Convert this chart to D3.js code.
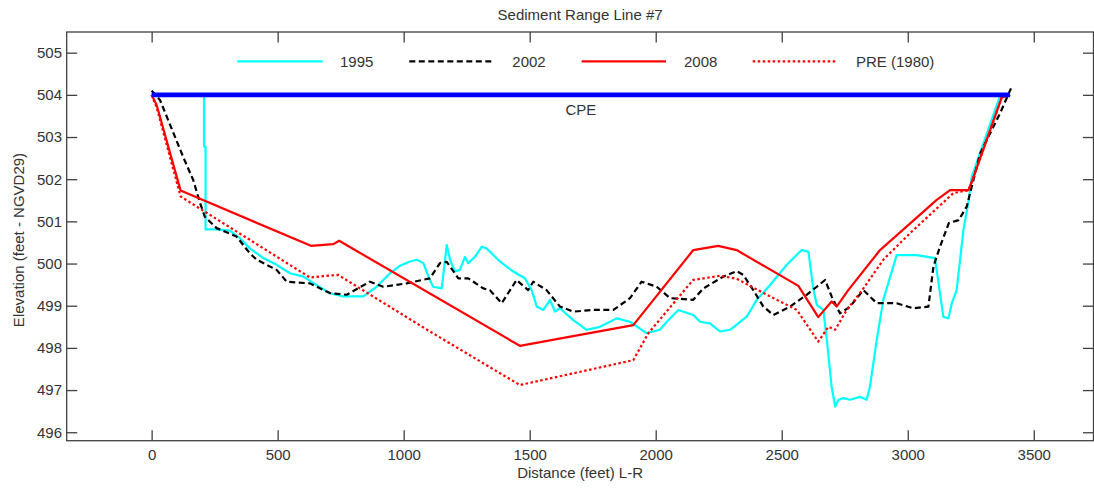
<!DOCTYPE html>
<html><head><meta charset="utf-8">
<script src="https://cdn.jsdelivr.net/npm/d3@7"></script>
<style>
body{margin:0;background:#fff;}
svg text{font-family:"Liberation Sans",Arial,sans-serif;fill:#333;}
</style></head>
<body><svg id="c" width="1094" height="488"></svg>
<script>
const title = "Sediment Range Line #7";
const xLabel = "Distance (feet) L-R";
const yLabel = "Elevation (feet - NGVD29)";
const xTicks = [0,500,1000,1500,2000,2500,3000,3500];
const yTicks = [496,497,498,499,500,501,502,503,504,505];
const seriesNames = ["1995","2002","2008","PRE (1980)"];

const cpe = [[0,504],[3406,504]];

const s1995 = [[208,504.0],[208,502.77],[214,502.77],[214,500.81],[258,500.81],[311,500.78],[350,500.6],[390,500.36],[443,500.13],[496,499.97],[549,499.77],[602,499.69],[655,499.49],[707,499.3],[760,499.22],[840,499.22],[893,499.45],[946,499.77],[986,499.95],[1025,500.05],[1052,500.09],[1078,500.01],[1104,499.61],[1117,499.45],[1151,499.41],[1171,500.44],[1184,500.09],[1204,499.81],[1223,499.85],[1243,500.16],[1256,500.01],[1283,500.16],[1310,500.4],[1329,500.36],[1382,500.05],[1435,499.81],[1481,499.65],[1508,499.37],[1528,498.98],[1554,498.9],[1581,499.14],[1600,498.86],[1620,498.94],[1673,498.66],[1726,498.43],[1779,498.5],[1845,498.7],[1898,498.62],[1964,498.35],[2017,498.43],[2044,498.62],[2090,498.9],[2149,498.78],[2176,498.62],[2215,498.58],[2255,498.39],[2295,498.43],[2361,498.74],[2401,499.14],[2454,499.49],[2520,499.97],[2579,500.32],[2606,500.28],[2625,499.41],[2639,499.02],[2665,498.9],[2679,498.19],[2698,497.08],[2712,496.61],[2725,496.77],[2744,496.81],[2771,496.77],[2810,496.84],[2837,496.77],[2850,497.08],[2877,498.19],[2903,499.14],[2956,500.2],[3036,500.2],[3108,500.13],[3128,499.3],[3141,498.74],[3161,498.7],[3175,499.06],[3194,499.37],[3221,500.8],[3241,501.47],[3254,502.06],[3366,503.97],[3386,504.02]];

const s2002 = [[0,504.1],[33,503.88],[125,502.53],[165,501.98],[192,501.44],[211,501.11],[258,500.84],[337,500.64],[390,500.24],[417,500.09],[496,499.85],[536,499.57],[628,499.53],[707,499.3],[774,499.26],[866,499.57],[919,499.45],[1012,499.53],[1104,499.65],[1144,500.01],[1171,500.04],[1217,499.65],[1256,499.65],[1316,499.41],[1342,499.37],[1389,499.06],[1448,499.61],[1494,499.37],[1514,499.57],[1567,499.37],[1620,498.98],[1673,498.86],[1752,498.9],[1832,498.9],[1898,499.18],[1944,499.57],[2004,499.45],[2057,499.18],[2149,499.14],[2189,499.41],[2268,499.69],[2321,499.82],[2348,499.73],[2387,499.37],[2427,498.98],[2467,498.78],[2533,498.98],[2599,499.26],[2639,499.45],[2672,499.61],[2698,499.22],[2731,498.82],[2771,498.98],[2824,499.37],[2877,499.06],[2956,499.06],[3022,498.94],[3082,498.98],[3102,499.93],[3128,500.4],[3163,500.96],[3202,501.03],[3234,501.35],[3287,502.61],[3366,503.56],[3410,504.16]];

const s2008 = [[0,504],[20,503.76],[115,501.73],[632,500.42],[721,500.46],[744,500.54],[1461,498.05],[1911,498.54],[2149,500.32],[2248,500.42],[2321,500.32],[2566,499.47],[2645,498.73],[2698,499.1],[2718,498.98],[2764,499.37],[2890,500.32],[3115,501.51],[3168,501.74],[3241,501.74],[3258,502.0],[3373,503.94],[3406,504]];

const sPre = [[0,504],[20,503.7],[115,501.59],[628,499.67],[694,499.71],[740,499.73],[1104,498.39],[1461,497.12],[1911,497.71],[1971,498.35],[2148,499.61],[2255,499.71],[2321,499.64],[2454,499.22],[2560,498.9],[2645,498.15],[2685,498.5],[2712,498.43],[2758,498.9],[2824,499.41],[2903,500.09],[3009,500.72],[3181,501.67],[3241,501.74],[3258,502.0],[3373,503.94],[3406,504]];

const svg = d3.select("#c");
const L=66.7, R=1093.5, T=32, B=440.7;
const x = d3.scaleLinear().domain([-337,3737]).range([L,R]);
const y = d3.scaleLinear().domain([495.8,505.49]).range([B,T]);
const axisCol = "#404040";
const fs = "15px";

function styleAxis(g){
  g.select(".domain").remove();
  g.selectAll(".tick line").attr("stroke",axisCol).attr("stroke-width",1.3);
  g.selectAll(".tick text").attr("fill","#333").style("font-size",fs).style("font-family",'"Liberation Sans",Arial,sans-serif');
}
svg.append("g").attr("transform",`translate(0,${B})`)
  .call(d3.axisBottom(x).tickValues(xTicks).tickSize(-10.5).tickPadding(8.5).tickFormat(d3.format("d"))).call(styleAxis);
svg.append("g").attr("transform",`translate(0,${T})`)
  .call(d3.axisTop(x).tickValues(xTicks).tickSize(-10.5).tickFormat("")).call(styleAxis);
svg.append("g").attr("transform",`translate(${L},0)`)
  .call(d3.axisLeft(y).tickValues(yTicks).tickSize(-10.5).tickPadding(4.7).tickFormat(d3.format("d"))).call(styleAxis);
svg.append("g").attr("transform",`translate(${R},0)`)
  .call(d3.axisRight(y).tickValues(yTicks).tickSize(-10.5).tickFormat("")).call(styleAxis);

svg.append("rect").attr("x",L).attr("y",T).attr("width",R-L).attr("height",B-T)
  .attr("fill","none").attr("stroke",axisCol).attr("stroke-width",1.3);

const line = d3.line().x(d=>x(d[0])).y(d=>y(d[1]));
const styles = [
  {data:s1995, color:"#00FFFF", w:2.2, dash:null},
  {data:s2002, color:"#000000", w:2.2, dash:"6,3.5"},
  {data:s2008, color:"#FF0000", w:2.2, dash:null},
  {data:sPre,  color:"#FF0000", w:2.2, dash:"2.5,2.5"}
];
const plot = svg.append("g");
styles.forEach(s=>{
  plot.append("path").attr("d",line(s.data)).attr("fill","none")
    .attr("stroke",s.color).attr("stroke-width",s.w)
    .attr("stroke-dasharray",s.dash).attr("stroke-linejoin","round");
});
plot.append("path").attr("d",line(cpe)).attr("fill","none").attr("stroke","#0000FF").attr("stroke-width",4.8);
svg.append("text").attr("x",x((cpe[0][0]+cpe[1][0])/2)).attr("y",115).attr("text-anchor","middle")
  .style("font-size",fs).text("CPE");

// legend
const legX = [[237.3,322.7,340],[409.3,494.3,512.3],[581.7,666,684],[752.7,836.7,856]];
const legY = 61.3;
seriesNames.forEach((n,i)=>{
  const s = styles[i];
  svg.append("line").attr("x1",legX[i][0]).attr("x2",legX[i][1]).attr("y1",legY).attr("y2",legY)
    .attr("stroke",s.color).attr("stroke-width",s.w).attr("stroke-dasharray",s.dash);
  svg.append("text").attr("x",legX[i][2]).attr("y",legY+5.5).style("font-size",fs).text(n);
});

svg.append("text").attr("x",(L+R)/2).attr("y",19.5).attr("text-anchor","middle").style("font-size",fs).text(title);
svg.append("text").attr("x",(L+R)/2).attr("y",478).attr("text-anchor","middle").style("font-size",fs).text(xLabel);
svg.append("text").attr("transform","translate(23.5,240) rotate(-90)").attr("text-anchor","middle").style("font-size",fs).text(yLabel);
</script></body></html>
